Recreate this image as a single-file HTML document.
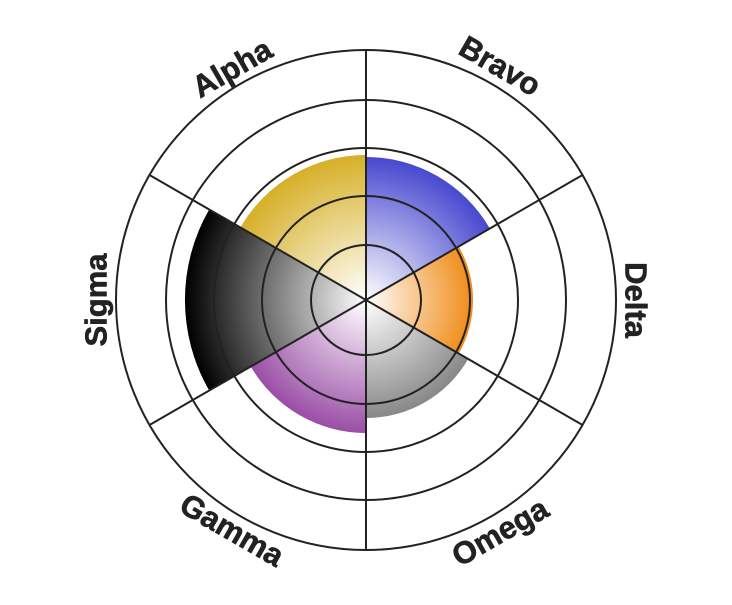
<!DOCTYPE html>
<html><head><meta charset="utf-8"><style>html,body{margin:0;padding:0;background:#fff}</style></head>
<body>
<svg width="732" height="600" viewBox="0 0 732 600" xmlns="http://www.w3.org/2000/svg">
<defs>
<radialGradient id="ga" gradientUnits="userSpaceOnUse" cx="366" cy="300" r="145"><stop offset="0" stop-color="#fff"/><stop offset="1" stop-color="#d6b028"/></radialGradient>
<radialGradient id="gb" gradientUnits="userSpaceOnUse" cx="366" cy="300" r="143"><stop offset="0" stop-color="#fff"/><stop offset="1" stop-color="#4848d0"/></radialGradient>
<radialGradient id="gd" gradientUnits="userSpaceOnUse" cx="366" cy="300" r="107"><stop offset="0" stop-color="#fff"/><stop offset="1" stop-color="#f08c18"/></radialGradient>
<radialGradient id="go" gradientUnits="userSpaceOnUse" cx="366" cy="300" r="118"><stop offset="0" stop-color="#fff"/><stop offset="1" stop-color="#888"/></radialGradient>
<radialGradient id="gg" gradientUnits="userSpaceOnUse" cx="366" cy="300" r="133"><stop offset="0" stop-color="#fff"/><stop offset="1" stop-color="#9a4ea6"/></radialGradient>
<radialGradient id="gs" gradientUnits="userSpaceOnUse" cx="366" cy="300" r="181"><stop offset="0" stop-color="#fff"/><stop offset="1" stop-color="#000"/></radialGradient>
</defs>
<path d="M366 300 L366 155 A145 145 0 0 0 240.4 227.5 Z" fill="url(#ga)"/>
<path d="M366 300 L366 157 A143 143 0 0 1 489.8 228.5 Z" fill="url(#gb)"/>
<path d="M366 300 L458.7 246.5 A107 107 0 0 1 458.7 353.5 Z" fill="url(#gd)"/>
<path d="M366 300 L468.2 359 A118 118 0 0 1 366 418 Z" fill="url(#go)"/>
<path d="M366 300 L366 433 A133 133 0 0 1 250.8 366.5 Z" fill="url(#gg)"/>
<path d="M366 300 L209.2 390.5 A181 181 0 0 1 209.2 209.5 Z" fill="url(#gs)"/>
<g fill="none" stroke="#222" stroke-width="2">
<circle cx="366" cy="300" r="250"/>
<circle cx="366" cy="300" r="200"/>
<circle cx="366" cy="300" r="152"/>
<circle cx="366" cy="300" r="104"/>
<circle cx="366" cy="300" r="55"/>
<line x1="366" y1="50" x2="366" y2="550"/>
<line x1="149.5" y1="175" x2="582.5" y2="425"/>
<line x1="149.5" y1="425" x2="582.5" y2="175"/>
</g>
<g font-family="Liberation Sans, sans-serif" font-weight="bold" font-size="31" fill="#222" stroke="#222" stroke-width="0.6" text-anchor="middle" dominant-baseline="central">
<text transform="translate(232,68) rotate(-30)">Alpha</text>
<text transform="translate(500,66) rotate(30)">Bravo</text>
<text transform="translate(636,300) rotate(90)">Delta</text>
<text transform="translate(500,532) rotate(-30)">Omega</text>
<text transform="translate(232,530) rotate(30)">Gamma</text>
<text transform="translate(96,300) rotate(-90)">Sigma</text>
</g>
</svg>
</body></html>
